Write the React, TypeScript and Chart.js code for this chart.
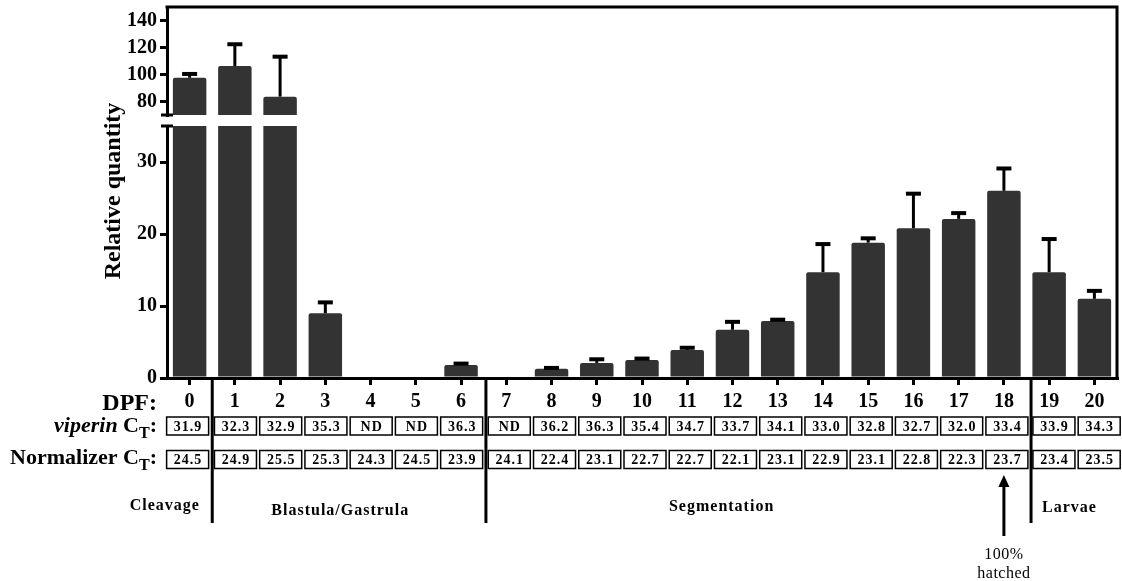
import { useEffect, useRef } from 'react';
import { Chart, registerables } from 'chart.js';

Chart.register(...registerables);

// Days post fertilisation
const days = ['0', '1', '2', '3', '4', '5', '6', '7', '8', '9', '10', '11', '12', '13', '14', '15', '16', '17', '18', '19', '20'];
// Relative viperin quantity (mean) and its upper error (SEM)
const relativeQuantity = [97.6, 106.3, 83.6, 9.0, 0, 0, 1.8, 0, 1.3, 2.1, 2.5, 3.9, 6.7, 7.9, 14.7, 18.8, 20.8, 22.1, 26.0, 14.7, 11.0];
const errorSem = [2.8, 16.1, 29.6, 1.5, 0, 0, 0.2, 0, 0.1, 0.5, 0.2, 0.3, 1.1, 0.2, 3.9, 0.6, 4.8, 0.8, 3.1, 4.6, 1.1];
// Threshold cycle values shown under each day
const viperinCt = ['31.9', '32.3', '32.9', '35.3', 'ND', 'ND', '36.3', 'ND', '36.2', '36.3', '35.4', '34.7', '33.7', '34.1', '33.0', '32.8', '32.7', '32.0', '33.4', '33.9', '34.3'];
const normalizerCt = ['24.5', '24.9', '25.5', '25.3', '24.3', '24.5', '23.9', '24.1', '22.4', '23.1', '22.7', '22.7', '22.1', '23.1', '22.9', '23.1', '22.8', '22.3', '23.7', '23.4', '23.5'];
// Developmental stages
const stageNames = ['Cleavage', 'Blastula/Gastrula', 'Segmentation', 'Larvae'];
// Axis tick values for the two parts of the broken y axis
const lowTicks = [0, 10, 20, 30];
const highTicks = [80, 100, 120, 140];

const LOW_MAX = 35;
const HIGH_MIN = 70;
const HIGH_MAX = 150;

// ---- layout (pixels / category units) ----
const SERIF = '"Liberation Serif", "Times New Roman", Times, serif';
const font = (size: number, weight = 'bold', style = 'normal') => `${style} ${weight} ${size}px ${SERIF}`;
const stageAnchor = [-0.55, 3.33, 11.76, 19.45];
const stageBaseline = [510, 515, 511, 512];
const dividerAt = [0.5, 6.55, 18.6];
const boxShift = (i: number) => (i === 0 ? -2 : i <= 6 ? 0.6 : i <= 18 ? 3 : 4.8);
const BOX_W = 42;
const BOX_H = 18;
const VIPERIN_BOX_TOP = 417;
const NORMALIZER_BOX_TOP = 450.5;

function drawCtLabel(ctx: CanvasRenderingContext2D, lead: string, italic: boolean, right: number, baseline: number) {
  const parts = [
    { text: lead, f: font(22, 'bold', italic ? 'italic' : 'normal'), dy: 0 },
    { text: 'C', f: font(22), dy: 0 },
    { text: 'T', f: font(16), dy: 6 },
    { text: ':', f: font(22), dy: 0 },
  ];
  const widths = parts.map((p) => {
    ctx.font = p.f;
    return ctx.measureText(p.text).width;
  });
  let x = right - widths.reduce((a, b) => a + b, 0);
  ctx.textAlign = 'left';
  ctx.textBaseline = 'alphabetic';
  parts.forEach((p, i) => {
    ctx.font = p.f;
    ctx.fillText(p.text, x, baseline + p.dy);
    x += widths[i];
  });
}

const figurePlugin = {
  id: 'figureExtras',
  afterDatasetsDraw(chart: any) {
    const { ctx, scales } = chart;
    const xs = scales.x;
    ctx.save();
    ctx.strokeStyle = '#000';
    relativeQuantity.forEach((v, i) => {
      const e = errorSem[i];
      if (!e) return;
      const s = v > LOW_MAX ? scales.yHigh : scales.yLow;
      const px = xs.getPixelForValue(i);
      const y0 = s.getPixelForValue(v);
      const y1 = s.getPixelForValue(v + e);
      ctx.lineWidth = 3;
      ctx.beginPath();
      ctx.moveTo(px, y0);
      ctx.lineTo(px, y1);
      ctx.stroke();
      ctx.lineWidth = 4;
      ctx.beginPath();
      ctx.moveTo(px - 7.5, y1);
      ctx.lineTo(px + 7.5, y1);
      ctx.stroke();
    });
    ctx.restore();
  },
  afterDraw(chart: any) {
    const { ctx, chartArea, scales } = chart;
    const xs = scales.x;
    const lo = scales.yLow;
    const hi = scales.yHigh;
    ctx.save();
    ctx.strokeStyle = '#000';
    ctx.fillStyle = '#000';

    // frame: top and right edges
    ctx.lineWidth = 3;
    ctx.beginPath();
    ctx.moveTo(chartArea.left - 1.5, chartArea.top);
    ctx.lineTo(chartArea.right, chartArea.top);
    ctx.lineTo(chartArea.right, chartArea.bottom);
    ctx.stroke();

    // axis break marks
    ctx.beginPath();
    ctx.moveTo(chartArea.left - 6, hi.bottom);
    ctx.lineTo(chartArea.left + 6, hi.bottom);
    ctx.moveTo(chartArea.left - 6, lo.top);
    ctx.lineTo(chartArea.left + 6, lo.top);
    ctx.stroke();

    // y title
    ctx.save();
    ctx.translate(114, 191);
    ctx.rotate(-Math.PI / 2);
    ctx.font = font(24);
    ctx.textAlign = 'center';
    ctx.textBaseline = 'middle';
    ctx.fillText('Relative quantity', 0, 0);
    ctx.restore();

    // row labels
    const labelRight = 157;
    ctx.font = font(24);
    ctx.textAlign = 'right';
    ctx.textBaseline = 'alphabetic';
    ctx.fillText('DPF:', labelRight, 409.5);
    drawCtLabel(ctx, 'viperin ', true, labelRight, 432);
    drawCtLabel(ctx, 'Normalizer ', false, labelRight, 464);

    // CT boxes
    ctx.lineWidth = 1.5;
    ctx.font = font(14);
    ctx.textAlign = 'center';
    ctx.textBaseline = 'middle';
    (ctx as any).letterSpacing = '1px';
    days.forEach((_, i) => {
      const cx = xs.getPixelForValue(i) + boxShift(i);
      [
        [VIPERIN_BOX_TOP, viperinCt[i]],
        [NORMALIZER_BOX_TOP, normalizerCt[i]],
      ].forEach(([top, txt]) => {
        const t = top as number;
        ctx.strokeRect(cx - BOX_W / 2, t, BOX_W, BOX_H);
        ctx.fillText(txt as string, cx + 0.5, t + BOX_H / 2 + 1);
      });
    });

    // stage dividers
    ctx.lineWidth = 3;
    dividerAt.forEach((d) => {
      const px = xs.getPixelForValue(d);
      ctx.beginPath();
      ctx.moveTo(px, chartArea.bottom);
      ctx.lineTo(px, 523);
      ctx.stroke();
    });

    // stage names
    ctx.font = font(16);
    ctx.textBaseline = 'alphabetic';
    stageNames.forEach((name, i) => {
      ctx.fillText(name, xs.getPixelForValue(stageAnchor[i]), stageBaseline[i]);
    });
    (ctx as any).letterSpacing = '0px';

    // hatching arrow at day 18
    const ax = xs.getPixelForValue(18);
    ctx.lineWidth = 3;
    ctx.beginPath();
    ctx.moveTo(ax, 536);
    ctx.lineTo(ax, 485);
    ctx.stroke();
    ctx.beginPath();
    ctx.moveTo(ax, 475);
    ctx.lineTo(ax - 5.5, 487);
    ctx.lineTo(ax + 5.5, 487);
    ctx.closePath();
    ctx.fill();
    ctx.font = font(16, 'normal');
    (ctx as any).letterSpacing = '0.5px';
    ctx.textAlign = 'center';
    ctx.fillText('100%', ax, 558.5);
    ctx.fillText('hatched', ax, 577.5);
    (ctx as any).letterSpacing = '0px';

    ctx.restore();
  },
};

export default function App() {
  const canvasRef = useRef<HTMLCanvasElement | null>(null);

  useEffect(() => {
    const canvas = canvasRef.current;
    if (!canvas) return;

    const axisGrid = {
      display: true,
      drawOnChartArea: false,
      drawTicks: true,
      tickLength: 7,
      tickWidth: 3,
      tickColor: '#000',
      color: '#000',
      lineWidth: 3,
    };
    const axisBorder = { display: true, color: '#000', width: 3 };
    const tickFont = { family: SERIF, size: 20, weight: 'bold' as const };
    const barStyle = {
      backgroundColor: '#333333',
      borderSkipped: 'start' as const,
      barPercentage: 0.74,
      categoryPercentage: 1,
      grouped: false,
    };
    // vertical axes: fixed width, no extra label overhang
    const fitY = (s: any) => {
      s.width = 167;
      s.paddingTop = 0;
      s.paddingBottom = 0;
    };
    const yTicks = { color: '#000', font: tickFont, padding: 3, autoSkip: false };

    const chart = new Chart(canvas, {
      type: 'bar',
      data: {
        labels: days,
        datasets: [
          {
            ...barStyle,
            label: 'Relative quantity',
            data: relativeQuantity.map((v) => Math.min(v, LOW_MAX)),
            yAxisID: 'yLow',
            borderRadius: (c: any) => (relativeQuantity[c.dataIndex] > LOW_MAX ? 0 : 2),
          },
          {
            ...barStyle,
            label: 'Relative quantity (upper)',
            data: relativeQuantity.map((v) => (v > HIGH_MIN ? v : null)),
            yAxisID: 'yHigh',
            borderRadius: 2,
          },
        ],
      },
      options: {
        responsive: false,
        animation: false,
        devicePixelRatio: 1,
        layout: { padding: { left: 0, top: 7, right: 5, bottom: 163 } },
        plugins: { legend: { display: false }, tooltip: { enabled: false } },
        scales: {
          x: {
            grid: { ...axisGrid, offset: false },
            border: axisBorder,
            ticks: { color: '#000', font: tickFont, padding: 5, autoSkip: false, maxRotation: 0 },
            afterFit: (s: any) => {
              s.height = 40;
              s.paddingLeft = 0;
              s.paddingRight = 0;
            },
          },
          yLow: {
            type: 'linear',
            position: 'left',
            stack: 'relq',
            stackWeight: 252,
            weight: 1,
            min: 0,
            max: LOW_MAX,
            grid: axisGrid,
            border: axisBorder,
            ticks: yTicks,
            afterBuildTicks: (s: any) => {
              s.ticks = lowTicks.map((value) => ({ value }));
            },
            afterFit: fitY,
          },
          yGap: {
            type: 'linear',
            position: 'left',
            stack: 'relq',
            stackWeight: 11,
            weight: 2,
            min: 0,
            max: 1,
            grid: { display: false },
            border: { display: false },
            ticks: { display: false },
            afterFit: fitY,
          },
          yHigh: {
            type: 'linear',
            position: 'left',
            stack: 'relq',
            stackWeight: 108,
            weight: 3,
            min: HIGH_MIN,
            max: HIGH_MAX,
            grid: axisGrid,
            border: axisBorder,
            ticks: yTicks,
            afterBuildTicks: (s: any) => {
              s.ticks = highTicks.map((value) => ({ value }));
            },
            afterFit: fitY,
          },
        },
      } as any,
      plugins: [figurePlugin],
    });

    return () => chart.destroy();
  }, []);

  return (
    <div style={{ position: 'fixed', left: 0, top: 0, width: 1122, height: 581, background: '#fff' }}>
      <canvas ref={canvasRef} width={1122} height={581} style={{ display: 'block' }} />
    </div>
  );
}
